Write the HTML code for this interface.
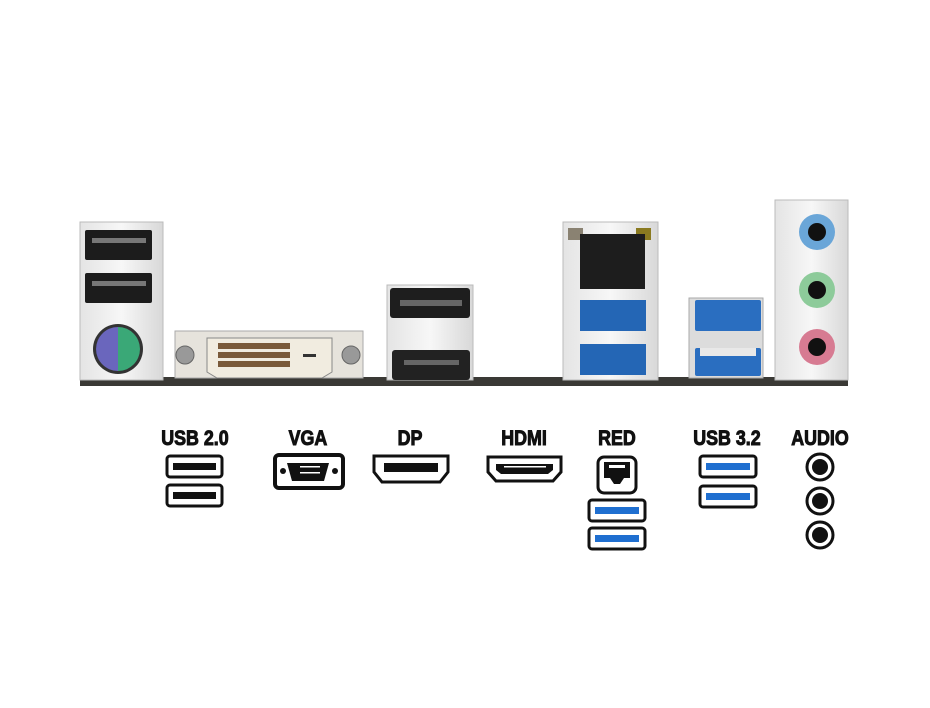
<!DOCTYPE html>
<html><head><meta charset="utf-8"><style>
html,body{margin:0;padding:0;background:#fff;}
svg{display:block}
text{font-family:"Liberation Sans Narrow","Liberation Sans",sans-serif;font-weight:bold;font-size:21px;fill:#111;stroke:#111;stroke-width:1;text-anchor:middle}
</style></head><body>
<svg width="930" height="708" viewBox="0 0 930 708" xmlns="http://www.w3.org/2000/svg">
<defs>
<linearGradient id="sil" x1="0" x2="1"><stop offset="0" stop-color="#e4e4e4"/><stop offset=".5" stop-color="#f7f7f7"/><stop offset="1" stop-color="#d8d8d8"/></linearGradient>
</defs>
<rect x="80" y="377" width="768" height="9" fill="#3a3935"/>
<rect x="80" y="222" width="83" height="158" fill="url(#sil)" stroke="#bbb"/>
<rect x="85" y="230" width="67" height="30" rx="2" fill="#1c1c1c"/>
<rect x="92" y="238" width="54" height="5" fill="#777"/>
<rect x="85" y="273" width="67" height="30" rx="2" fill="#1c1c1c"/>
<rect x="92" y="281" width="54" height="5" fill="#777"/>
<circle cx="118" cy="349" r="25" fill="#333"/>
<path d="M118 327 A22 22 0 0 0 118 371 Z" fill="#6a66bd"/>
<path d="M118 327 A22 22 0 0 1 118 371 Z" fill="#3aa877"/>
<rect x="175" y="331" width="188" height="47" fill="#e6e3dc" stroke="#aaa"/>
<circle cx="185" cy="355" r="9" fill="#999" stroke="#666"/>
<circle cx="351" cy="355" r="9" fill="#999" stroke="#666"/>
<path d="M207 338 H332 V372 L322 378 H217 L207 372 Z" fill="#f1ece0" stroke="#888"/>
<g fill="#7a5a3a">
<rect x="218" y="343" width="72" height="6"/><rect x="218" y="352" width="72" height="6"/><rect x="218" y="361" width="72" height="6"/>
</g>
<rect x="303" y="354" width="13" height="3" fill="#333"/>
<rect x="387" y="285" width="86" height="95" fill="url(#sil)" stroke="#bbb"/>
<rect x="390" y="288" width="80" height="30" rx="3" fill="#1e1e1e"/>
<rect x="400" y="300" width="62" height="6" fill="#666"/>
<rect x="392" y="350" width="78" height="30" rx="3" fill="#222"/>
<rect x="404" y="360" width="55" height="5" fill="#666"/>
<rect x="563" y="222" width="95" height="158" fill="url(#sil)" stroke="#bbb"/>
<rect x="568" y="228" width="15" height="12" fill="#8a8272"/>
<rect x="636" y="228" width="15" height="12" fill="#8a7a20"/>
<rect x="580" y="234" width="65" height="55" fill="#1d1d1d"/>
<rect x="580" y="300" width="66" height="31" fill="#2466b5"/>
<rect x="580" y="344" width="66" height="31" fill="#2466b5"/>
<rect x="689" y="298" width="74" height="80" fill="#dcdcdc" stroke="#aaa"/>
<rect x="695" y="300" width="66" height="31" rx="2" fill="#2a6ec0"/>
<rect x="695" y="348" width="66" height="28" rx="2" fill="#2a6ec0"/>
<rect x="700" y="348" width="56" height="8" fill="#e8e8e8"/>
<rect x="775" y="200" width="73" height="180" fill="url(#sil)" stroke="#bbb"/>
<circle cx="817" cy="232" r="18" fill="#6aa6d8"/><circle cx="817" cy="232" r="9" fill="#111"/>
<circle cx="817" cy="290" r="18" fill="#8dcb9a"/><circle cx="817" cy="290" r="9" fill="#111"/>
<circle cx="817" cy="347" r="18" fill="#d77b92"/><circle cx="817" cy="347" r="9" fill="#111"/>
<text x="195" y="445" transform="translate(195 0) scale(.85 1) translate(-195 0)">USB 2.0</text>
<text x="308" y="445" transform="translate(308 0) scale(.85 1) translate(-308 0)">VGA</text>
<text x="410" y="445" transform="translate(410 0) scale(.85 1) translate(-410 0)">DP</text>
<text x="524" y="445" transform="translate(524 0) scale(.85 1) translate(-524 0)">HDMI</text>
<text x="617" y="445" transform="translate(617 0) scale(.85 1) translate(-617 0)">RED</text>
<text x="727" y="445" transform="translate(727 0) scale(.85 1) translate(-727 0)">USB 3.2</text>
<text x="820" y="445" transform="translate(820 0) scale(.85 1) translate(-820 0)">AUDIO</text>
<g fill="none" stroke="#111" stroke-width="3">
<rect x="167" y="456" width="55" height="21" rx="3"/>
<rect x="167" y="485" width="55" height="21" rx="3"/>
<rect x="275" y="455" width="68" height="33" rx="4" stroke-width="4"/>
<path d="M374 456 H448 V472 L440 482 H382 L374 472 Z"/>
<path d="M488 457 H561 V472 L553 481 H496 L488 472 Z"/>
<rect x="598" y="457" width="38" height="36" rx="6"/>
<rect x="589" y="500" width="56" height="21" rx="3"/>
<rect x="589" y="528" width="56" height="21" rx="3"/>
<rect x="700" y="456" width="56" height="21" rx="3"/>
<rect x="700" y="486" width="56" height="21" rx="3"/>
<circle cx="820" cy="467" r="13"/><circle cx="820" cy="501" r="13"/><circle cx="820" cy="535" r="13"/>
</g>
<g fill="#111">
<rect x="173" y="463" width="43" height="7"/>
<rect x="173" y="492" width="43" height="7"/>
<path d="M287 463 H329 L324 481 H292 Z"/>
<circle cx="283" cy="471" r="3"/><circle cx="335" cy="471" r="3"/>
<path d="M384 463 H438 V472 H384 Z"/>
<path d="M496 464 H553 V470 L548 474 H501 L496 470 Z"/>
<path d="M604 462 H630 V478 L624 478 L620 484 H614 L610 478 H604 Z"/>
<circle cx="820" cy="467" r="8"/><circle cx="820" cy="501" r="8"/><circle cx="820" cy="535" r="8"/>
</g>
<g fill="#1f6fd0">
<rect x="595" y="507" width="44" height="7"/>
<rect x="595" y="535" width="44" height="7"/>
<rect x="706" y="463" width="44" height="7"/>
<rect x="706" y="493" width="44" height="7"/>
</g>
<g fill="#fff">
<rect x="300" y="466" width="20" height="1.5"/><rect x="300" y="472" width="20" height="1.5"/>
<rect x="504" y="466" width="42" height="1.5"/>
<rect x="609" y="465" width="16" height="3"/>
</g>
</svg>
</body></html>
